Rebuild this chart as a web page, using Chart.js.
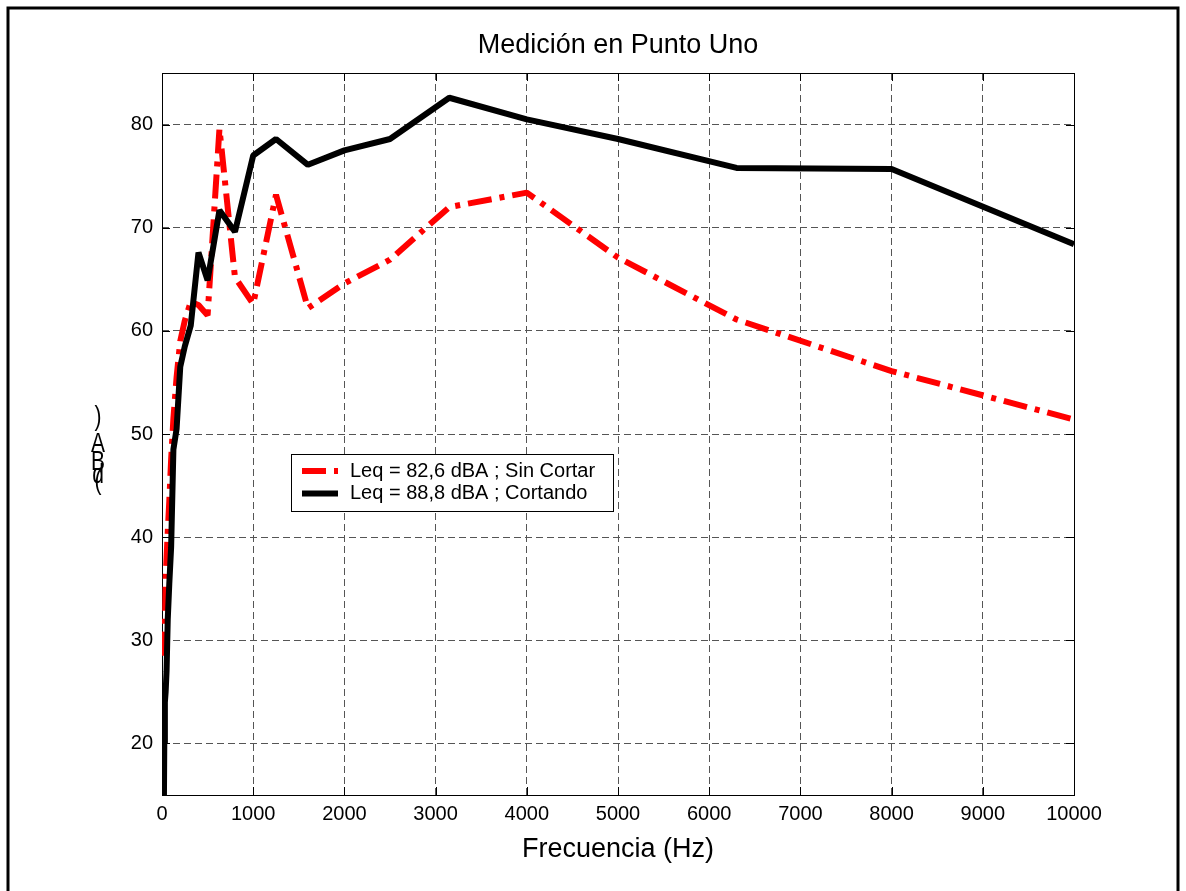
<!DOCTYPE html>
<html>
<head>
<meta charset="utf-8">
<title>Medición en Punto Uno</title>
<script src="https://cdn.jsdelivr.net/npm/chart.js@4.4.0/dist/chart.umd.min.js"></script>
<style>
    html, body { margin: 0; padding: 0; background: #fff; }
</style>
</head>
<body>
<canvas id="medicionChart" width="1186" height="891"></canvas>
<script>
// Frecuencias de tercio de octava (Hz)
const frecuencias = [20, 25, 31.5, 40, 50, 63, 80, 100, 125, 160, 200, 250, 315, 400, 500, 630, 800, 1000, 1250, 1600, 2000, 2500, 3150, 4000, 5000, 6300, 8000, 10000]
const sinCortar = [28.5, 30, 31, 36, 38, 40.5, 43.5, 47.5, 51.5, 55.5, 59, 61, 62.8, 62.5, 61.5, 79.6, 65.2, 62.6, 73.2, 62.2, 64.6, 66.9, 72.0, 73.4, 67.1, 61.1, 56.1, 51.4]
const cortando = [13, 20, 24, 25, 27, 32, 35.5, 39, 48.5, 50.5, 56.5, 58.5, 60.5, 67.6, 64.9, 71.7, 69.6, 77.0, 78.6, 76.1, 77.5, 78.6, 82.6, 80.5, 78.6, 75.8, 75.7, 68.4]
const xTicks = [0, 1000, 2000, 3000, 4000, 5000, 6000, 7000, 8000, 9000, 10000]
const yTicks = [20, 30, 40, 50, 60, 70, 80]

const FONT = "'Liberation Sans', Arial, sans-serif"

const toPoints = vals => frecuencias.map((f, i) => ({ x: f, y: vals[i] }))

// marco, título, etiqueta Y, leyenda y marcas interiores (estilo MATLAB)
const matlabPlugin = {
    id: 'matlabStyle',
    beforeDatasetsDraw(chart) {
        const { ctx, chartArea: a, scales } = chart
        ctx.save()
        ctx.strokeStyle = '#000'
        ctx.lineWidth = 1
        ctx.setLineDash([])
        ctx.strokeRect(a.left + 0.5, a.top + 0.5, a.right - a.left, a.bottom - a.top)
        ctx.beginPath()
        xTicks.forEach(v => {
            const px = Math.round(scales.x.getPixelForValue(v)) + 0.5
            ctx.moveTo(px, a.bottom); ctx.lineTo(px, a.bottom - 8)
            ctx.moveTo(px, a.top); ctx.lineTo(px, a.top + 8)
        })
        yTicks.forEach(v => {
            const py = Math.round(scales.y.getPixelForValue(v)) + 0.5
            ctx.moveTo(a.left, py); ctx.lineTo(a.left + 8, py)
            ctx.moveTo(a.right, py); ctx.lineTo(a.right - 8, py)
        })
        ctx.stroke()
        ctx.restore()
    },
    afterDraw(chart) {
        const { ctx, chartArea: a } = chart
        ctx.save()
        // marco exterior
        ctx.strokeStyle = '#000'
        ctx.lineWidth = 3
        ctx.setLineDash([])
        ctx.strokeRect(8, 8, 1170, 900)

        // título
        ctx.fillStyle = '#000'
        ctx.font = '27px ' + FONT
        ctx.textAlign = 'center'
        ctx.textBaseline = 'middle'
        ctx.fillText('Medición en Punto Uno', (a.left + a.right) / 2, 46)

        // etiqueta Y: letras apiladas como en el original (algo estiradas en vertical)
        ctx.font = '21px ' + FONT
        ctx.textBaseline = 'alphabetic'
        const letras = ['(', 'd', 'B', 'A', ')']
        const bases = [489, 483, 470, 452, 425]
        letras.forEach((c, i) => {
            ctx.save()
            ctx.translate(98, bases[i])
            ctx.scale(1, 1.3)
            ctx.fillText(c, 0, 0)
            ctx.restore()
        })

        // leyenda
        const lx = 291, ly = 454, lw = 322, lh = 57
        ctx.fillStyle = '#fff'
        ctx.fillRect(lx, ly, lw, lh)
        ctx.strokeStyle = '#000'
        ctx.lineWidth = 1
        ctx.strokeRect(lx + 0.5, ly + 0.5, lw, lh)
        ctx.font = '20px ' + FONT
        chart.data.datasets.forEach((ds, i) => {
            const yy = ly + 17 + i * 22.5
            ctx.beginPath()
            ctx.strokeStyle = ds.borderColor
            ctx.lineWidth = 6
            ctx.lineCap = 'butt'
            ctx.setLineDash(ds.borderDash || [])
            ctx.moveTo(lx + 11, yy)
            ctx.lineTo(lx + 47, yy)
            ctx.stroke()
            ctx.setLineDash([])
            ctx.fillStyle = '#000'
            ctx.textAlign = 'left'
            ctx.textBaseline = 'middle'
            ctx.fillText(ds.label, lx + 59, yy)
        })
        ctx.restore()
    }
}

const ctx = document.getElementById('medicionChart').getContext('2d')

new Chart(ctx, {
    type: 'line',
    data: {
        datasets: [
            {
                label: 'Leq = 82,6 dBA ; Sin Cortar',
                data: toPoints(sinCortar),
                borderColor: '#ff0000',
                borderWidth: 6,
                borderDash: [24, 8, 5, 8],
                borderCapStyle: 'butt',
                borderJoinStyle: 'bevel',
                pointRadius: 0,
                tension: 0,
                order: 1
            },
            {
                label: 'Leq = 88,8 dBA ; Cortando',
                data: toPoints(cortando),
                borderColor: '#000000',
                borderWidth: 6,
                borderJoinStyle: 'bevel',
                pointRadius: 0,
                tension: 0,
                order: 0
            }
        ]
    },
    options: {
        responsive: false,
        animation: false,
        layout: { padding: { top: 73, right: 112, left: 0, bottom: 0 } },
        plugins: {
            legend: { display: false },
            title: { display: false },
            tooltip: { enabled: false }
        },
        scales: {
            x: {
                type: 'linear',
                min: 0,
                max: 10000,
                afterBuildTicks: scale => { scale.ticks = xTicks.map(v => ({ value: v })) },
                afterFit: scale => { scale.height = 96 },
                ticks: {
                    color: '#000',
                    font: { family: FONT, size: 20 },
                    padding: 7,
                    maxRotation: 0,
                    callback: v => String(v)
                },
                grid: { color: '#555', lineWidth: 1, drawTicks: false },
                border: { display: false, dash: [7, 4] },
                title: {
                    display: true,
                    text: 'Frecuencia (Hz)',
                    color: '#000',
                    font: { family: FONT, size: 27 },
                    padding: { top: 0, bottom: 25 }
                }
            },
            y: {
                type: 'linear',
                min: 15,
                max: 85,
                afterBuildTicks: scale => { scale.ticks = yTicks.map(v => ({ value: v })) },
                afterFit: scale => { scale.width = 162 },
                ticks: {
                    color: '#000',
                    font: { family: FONT, size: 20 },
                    padding: 9
                },
                grid: { color: '#555', lineWidth: 1, drawTicks: false },
                border: { display: false, dash: [7, 4] }
            }
        }
    },
    plugins: [matlabPlugin]
})
</script>
</body>
</html>
